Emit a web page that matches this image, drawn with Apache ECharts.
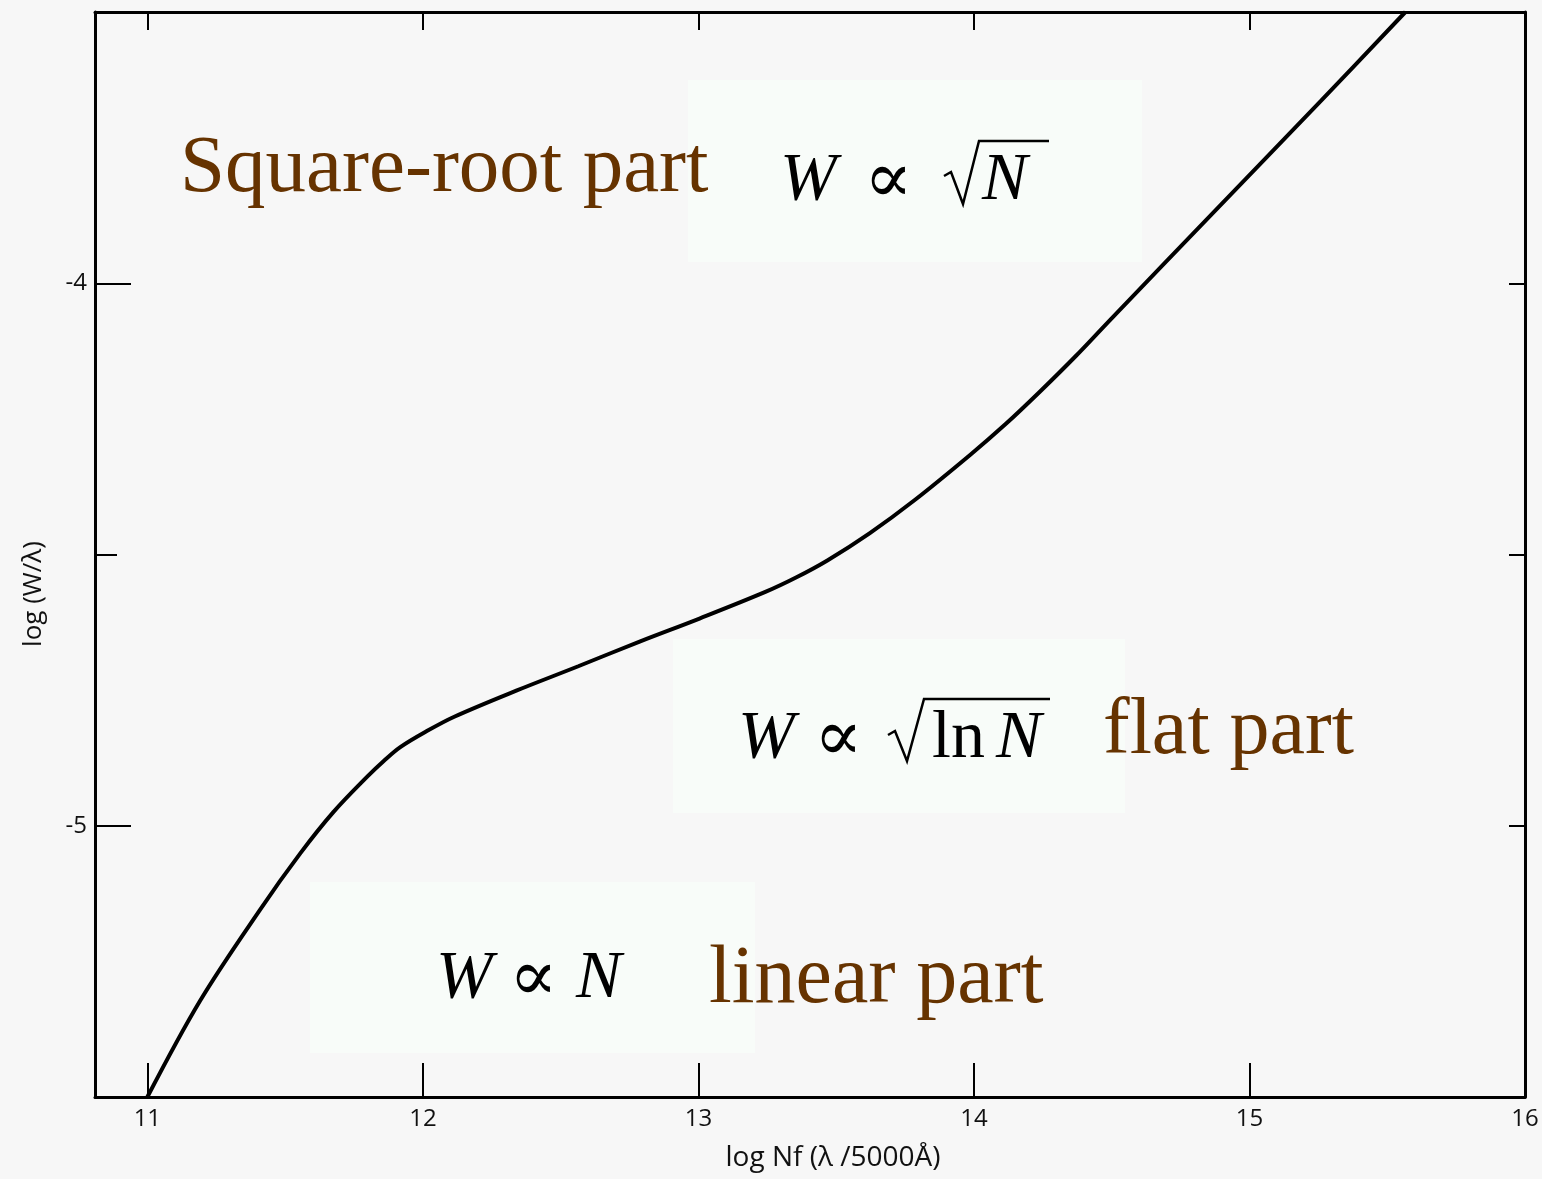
<!DOCTYPE html>
<html lang="en">
<head>
    <meta charset="UTF-8">
    <title>Curve of growth</title>
    <script src="https://cdn.jsdelivr.net/npm/echarts@6.0.0/dist/echarts.min.js"></script>
    <style type="text/css">
        html, body { margin: 0; padding: 0; background: #f7f7f7; }
        #chart { width: 1542px; height: 1179px; }
    </style>
</head>
<body>
<div id="chart"></div>
<script type="text/javascript">
    // values
    var logN = [11.0, 11.192, 11.41, 11.555, 11.675, 11.799, 11.857, 11.918, 12.016, 12.114, 12.339, 12.564, 12.789,
        13.004, 13.243, 13.356, 13.468, 13.621, 13.784, 13.987, 14.114, 14.241, 14.368, 14.499, 14.88, 15.261, 15.566];
    var logW = [-5.5, -5.322, -5.154, -5.051, -4.975, -4.909, -4.881, -4.855, -4.825, -4.799, -4.751, -4.706, -4.66,
        -4.618, -4.569, -4.542, -4.511, -4.461, -4.4, -4.316, -4.26, -4.199, -4.135, -4.065, -3.864, -3.663, -3.5];
    var xTicks = [11, 12, 13, 14, 15, 16];
    var yLabelTicks = [-5, -4];
    var yHalfTicks = [-4.5];
    var yRightTicks = [-5, -4.5, -4];

    var brown = '#663300';
    var boxColor = '#f8fcf9';
    var serif = '"Liberation Serif", "DejaVu Serif", serif';
    var sans = '"Open Sans", "DejaVu Sans", sans-serif';

    var curve = [];
    for (var i = 0; i < logN.length; i++) {
        curve.push([logN[i], logW[i]]);
    }

    function box(x, y, w, h) {
        return {type: 'rect', z: 0, silent: true, shape: {x: x, y: y, width: w, height: h},
            style: {fill: boxColor}};
    }
    function txt(str, x, y, size, color, italic) {
        return {type: 'text', z: 1, silent: true, x: x, y: y,
            style: {text: str, fill: color, font: (italic ? 'italic ' : '') + size + 'px ' + serif,
                align: 'left', verticalAlign: 'middle'}};
    }
    function radical(pts) {
        return {type: 'polyline', z: 1, silent: true, shape: {points: pts},
            style: {stroke: '#000', lineWidth: 2.5, fill: null, lineJoin: 'miter'}};
    }

    var myChart = echarts.init(document.getElementById('chart'));
    var axisLine = {show: true, lineStyle: {color: '#000', width: 3}};
    var option = {
        backgroundColor: '#f7f7f7',
        animation: false,
        grid: {left: 95, right: 17, top: 12, bottom: 82},
        xAxis: [
            {
                type: 'value', position: 'bottom', min: 10.81, max: 16,
                axisLine: axisLine, splitLine: {show: false},
                axisTick: {show: true, inside: true, length: 34, customValues: xTicks,
                    lineStyle: {color: '#000', width: 2}},
                axisLabel: {customValues: xTicks, margin: 10, color: '#111', fontSize: 24, fontFamily: sans}
            },
            {
                type: 'value', position: 'top', min: 10.81, max: 16,
                axisLine: axisLine, splitLine: {show: false},
                axisTick: {show: true, inside: true, length: 18, customValues: xTicks,
                    lineStyle: {color: '#000', width: 2}},
                axisLabel: {show: false}
            }
        ],
        yAxis: [
            {
                type: 'value', position: 'left', min: -5.5, max: -3.5,
                axisLine: axisLine, splitLine: {show: false},
                axisTick: {show: true, inside: true, length: 36, customValues: yLabelTicks,
                    lineStyle: {color: '#000', width: 2}},
                axisLabel: {customValues: yLabelTicks, margin: 8, color: '#111', fontSize: 24, fontFamily: sans}
            },
            {
                type: 'value', position: 'left', min: -5.5, max: -3.5,
                axisLine: {show: false}, splitLine: {show: false},
                axisTick: {show: true, inside: true, length: 22, customValues: yHalfTicks,
                    lineStyle: {color: '#000', width: 2}},
                axisLabel: {show: false}
            },
            {
                type: 'value', position: 'right', min: -5.5, max: -3.5,
                axisLine: axisLine, splitLine: {show: false},
                axisTick: {show: true, inside: true, length: 16, customValues: yRightTicks,
                    lineStyle: {color: '#000', width: 2}},
                axisLabel: {show: false}
            }
        ],
        series: [{
            type: 'line',
            xAxisIndex: 0,
            yAxisIndex: 0,
            z: 5,
            data: curve,
            smooth: 0.35,
            showSymbol: false,
            clip: true,
            lineStyle: {color: '#000', width: 4}
        }],
        graphic: [
            box(688, 80, 454, 182),
            box(673, 639, 452, 174),
            box(310, 882, 445, 171),

            // labels of the axes
            {type: 'text', silent: true, x: 34, y: 594, rotation: Math.PI / 2,
                style: {text: 'log (W/λ)', fill: '#111', font: '26px ' + sans, align: 'center', verticalAlign: 'middle'}},
            {type: 'text', silent: true, x: 833, y: 1158,
                style: {text: 'log Nf (λ /5000Å)', fill: '#111', font: '28px ' + sans, align: 'center', verticalAlign: 'middle'}},

            // brown captions
            txt('Square-root part', 180, 170, 81, brown, false),
            txt('flat part', 1103, 732, 80, brown, false),
            txt('linear part', 709, 980, 82, brown, false),

            // W ∝ √N
            txt('W', 780, 181, 68, '#000', true),
            txt('∝', 864, 183, 72, '#000', false),
            radical([[944, 176], [951, 172], [963, 204], [979, 141], [1049, 141]]),
            txt('N', 982, 181, 68, '#000', true),

            // W ∝ √ln N
            txt('W', 738, 739, 68, '#000', true),
            txt('∝', 814, 741, 72, '#000', false),
            radical([[888, 735], [895, 731], [907, 761], [924, 699], [1050, 699]]),
            txt('ln', 932, 739, 68, '#000', false),
            txt('N', 996, 739, 68, '#000', true),

            // W ∝ N
            txt('W', 436, 979, 68, '#000', true),
            txt('∝', 509, 981, 72, '#000', false),
            txt('N', 576, 979, 68, '#000', true)
        ]
    };
    myChart.setOption(option);
</script>
</body>
</html>
